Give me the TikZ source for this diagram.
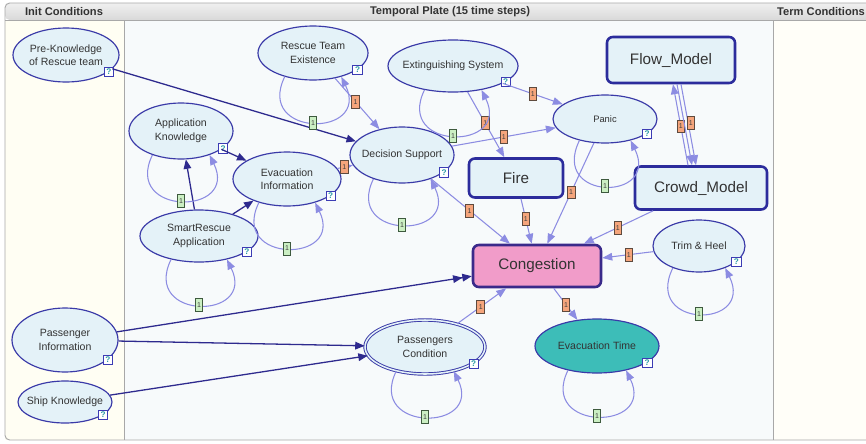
\documentclass[tikz,border=0pt]{standalone}
\usepackage{fontspec}
\setmainfont{Liberation Sans}
\usetikzlibrary{shapes.geometric,arrows.meta,calc}

\definecolor{nodefill}{HTML}{E4F2F8}
\definecolor{nodeline}{HTML}{3A3AA8}
\definecolor{boxline}{HTML}{2C2C9C}
\definecolor{darkarc}{HTML}{2E2A8E}
\definecolor{tmparc}{HTML}{8C8CE2}
\definecolor{congfill}{HTML}{F19CC9}
\definecolor{congline}{HTML}{3A2A8A}
\definecolor{evtfill}{HTML}{3DBDB8}
\definecolor{orfill}{HTML}{F5A57C}
\definecolor{orline}{HTML}{5E4A3E}
\definecolor{grfill}{HTML}{CBEFC3}
\definecolor{grline}{HTML}{3E5A3E}
\definecolor{qline}{HTML}{3C3CB4}
\definecolor{qtext}{HTML}{2A9AA6}
\definecolor{initbg}{HTML}{FFFEF3}
\definecolor{platebg}{HTML}{F7FAFB}
\definecolor{framegray}{HTML}{A8A8A8}
\definecolor{txt}{HTML}{333333}

% elliptic chance node with its "?" badge at the lower right
% [options]{name}{x}{y}{rx}{ry}{text}
\newcommand\ellnode[7][]{%
  \node[ell, minimum width={#5*0.06cm}, minimum height={#6*0.06cm},
        label={[lbl]center:{#7}}, #1] (#2) at (#3,-#4) {};
  \node[qmark] (#2-q) at ({#3+0.81*#5},{-#4-0.62*#6}) {?};
}
% temporal self-arc below a node
\newcommand\selfloop[1]{%
  \draw[tmp] (#1.220) .. controls +(244:68) and +(296:68) .. (#1.320)
    node[gtag, pos=0.5] (#1-loop) {1};
}

\begin{document}
\begin{tikzpicture}[x=0.03cm, y=0.03cm,
  ell/.style={ellipse, draw=nodeline, line width=1pt, fill=nodefill, inner sep=0pt},
  lbl/.style={font=\fontsize{9}{11.5}\selectfont, text=txt, align=center},
  box/.style={rectangle, rounded corners=5pt, draw=boxline, line width=2.2pt,
              fill=nodefill, font=\fontsize{13}{15}\selectfont, text=txt, inner sep=0pt},
  qmark/.style={rectangle, draw=qline, line width=0.7pt, fill=white,
                minimum size=8pt, inner sep=0pt,
                font=\bfseries\fontsize{7}{7}\selectfont, text=qtext},
  tag/.style={rectangle, minimum width=6.6pt, minimum height=11pt, inner sep=0pt,
              line width=0.7pt, font=\fontsize{6}{6}\selectfont, text=black!75},
  otag/.style={tag, fill=orfill, draw=orline},
  gtag/.style={tag, fill=grfill, draw=grline},
  tmp/.style={draw=tmparc, line width=0.9pt, -{Triangle[length=8.5pt,width=6.5pt]}},
  dark/.style={draw=darkarc, line width=1.1pt, -{Triangle[length=8pt,width=6.5pt]}},
  hdr/.style={font=\bfseries\fontsize{9.5}{10}\selectfont, text=txt, inner sep=0pt}
]
\clip (0,0) rectangle (866,-443);

% ---- plate frame and columns ----
\fill[white] (0,0) rectangle (866,-443);
\fill[initbg] (5,-20) rectangle (124,-440);
\fill[platebg] (124,-20) rectangle (773,-440);
\fill[initbg!60!white] (773,-20) rectangle (880,-440);
\shade[top color=gray!12, bottom color=gray!30, rounded corners=4pt]
  (5,-20) -- (5,-3) -- (880,-3) -- (880,-20) -- cycle;
\draw[framegray, line width=0.8pt, rounded corners=4pt]
  (880,-3) -- (5,-3) -- (5,-440) -- (880,-440);
\draw[framegray, line width=0.8pt] (5,-20) -- (880,-20);
\draw[framegray, line width=0.8pt] (124,-20) -- (124,-440);
\draw[framegray, line width=0.8pt] (773,-20) -- (773,-440);

\node[hdr] (hdr-init) at (64,-12) {Init Conditions};
\node[hdr] (hdr-plate) at (450,-12) {Temporal Plate (15 time steps)};
\node[hdr, anchor=west] (hdr-term) at (777,-12) {Term Conditions};

% ---- chance nodes ----
\ellnode{pre}{66}{55}{53}{27}{Pre-Knowledge\\of Rescue team}
\ellnode{ak}{181}{131}{52}{28}{Application\\Knowledge}
\ellnode{ei}{287}{179}{54}{27}{Evacuation\\Information}
\ellnode{sr}{199}{236}{59}{26}{SmartRescue\\Application}
\ellnode{rt}{313}{53}{55}{27}{Rescue Team\\Existence}
\ellnode{ext}{453}{66}{65}{26}{Extinguishing System}
\ellnode{ds}{402}{155}{52}{28}{Decision Support}
\ellnode{panic}{605}{119}{52}{24}{\fontsize{8}{10}\selectfont Panic}
\ellnode{trim}{699}{246}{46}{26}{Trim \& Heel}
\ellnode{pi}{65}{340}{53}{32}{Passenger\\Information}
\ellnode{sk}{65}{402}{47}{21}{Ship Knowledge}
\ellnode[double=nodefill, double distance=1.3pt, line width=0.8pt]{pc}{425}{347}{60}{27}{Passengers\\Condition}
\ellnode[fill=evtfill]{et}{597}{346}{62}{27}{Evacuation Time}

% ---- submodel boxes ----
\node[box, minimum width={128*0.03cm}, minimum height={46*0.03cm}] (flow) at (671,-60) {Flow\_Model};
\node[box, minimum width={132*0.03cm}, minimum height={43*0.03cm}] (crowd) at (701,-188) {Crowd\_Model};
\node[box, minimum width={94*0.03cm}, minimum height={39*0.03cm}] (fire) at (516,-178) {Fire};
\node[box, fill=congfill, draw=congline, minimum width={128*0.03cm}, minimum height={42*0.03cm}] (cong) at (537,-266) {Congestion};

% ---- contemporal arcs ----
\draw[dark] (pre) -- (ds);
\draw[dark] (ak) -- (ei);
\draw[dark] (sr) -- (ak);
\draw[dark] (sr) -- (ei);
\draw[dark, -{Triangle[length=8pt,width=6.5pt]Triangle[length=8pt,width=6.5pt]}] (pi) -- (cong);
\draw[dark] (pi) -- (pc);
\draw[dark] (sk) -- (pc);

% ---- temporal arcs ----
\draw[tmp] (rt) -- node[otag, pos=0.46] (t1) {1} (ds);
\draw[tmp] (ext) -- node[otag, pos=0.5] (t2) {1} (panic);
\draw[tmp] (ext) -- node[otag, pos=0.48] (t3) {1} (fire);
\draw[tmp] (ds) -- node[otag, pos=0.5] (t4) {1} (panic);
\draw[tmp] (ei) -- node[otag, pos=0.45] (t5) {1} (ds);
\draw[tmp] (ds) -- node[otag, pos=0.49] (t6) {1} (cong);
\draw[tmp] (fire) -- node[otag, pos=0.45] (t7) {1} (cong);
\draw[tmp] (panic) -- node[otag, pos=0.49] (t8) {1} (cong);
\draw[tmp] (crowd) -- node[otag, pos=0.51] (t9) {1} (cong);
\draw[tmp] (trim) -- node[otag, pos=0.48] (t10) {1} (cong);
\draw[tmp] (pc) -- node[otag, pos=0.48] (t11) {1} (cong);
\draw[tmp] (cong) -- node[otag, pos=0.52] (t12) {1} (et);

% flow / crowd exchange
\draw[tmp] ([xshift=-0.39cm]crowd.north) -- node[otag, pos=0.48] (t13) {1} ([xshift=0.06cm]flow.south);
\draw[tmp] ([xshift=0.18cm]flow.south) -- ([xshift=-0.27cm]crowd.north);
\draw[tmp] ([xshift=0.30cm]flow.south) -- node[otag, pos=0.48, xshift=0.08cm] (t14) {1} ([xshift=-0.15cm]crowd.north);

% ---- self arcs ----
\selfloop{rt}
\selfloop{ext}
\selfloop{ak}
\selfloop{ei}
\selfloop{ds}
\selfloop{sr}
\selfloop{panic}
\selfloop{trim}
\selfloop{pc}
\selfloop{et}
\end{tikzpicture}
\end{document}
